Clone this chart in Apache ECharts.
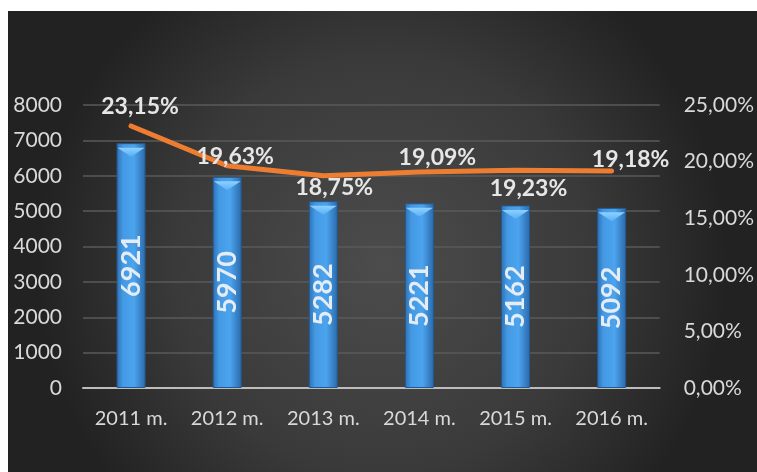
<!DOCTYPE html>
<html><head><meta charset="utf-8">
<script src="https://cdn.jsdelivr.net/npm/echarts@6/dist/echarts.min.js"></script>
<style>html,body{margin:0;padding:0;background:#fff;}#c{width:757px;height:472px;}</style>
</head><body><div id="c"></div>
<script>
const categories = ['2011 m.', '2012 m.', '2013 m.', '2014 m.', '2015 m.', '2016 m.'];
const barValues = [6921, 5970, 5282, 5221, 5162, 5092];
const pctValues = [0.2315, 0.1963, 0.1875, 0.1909, 0.1923, 0.1918];
const pctLabelPos = ['top', 'top', 'bottom', 'top', 'bottom', 'top'];
const pctLabelOffset = [[9, 0], [8, 10], [11, -7], [18, 5], [13, -1], [19, 8]];

const fmtPct = v => (v * 100).toFixed(2).replace('.', ',') + '%';
const font = 'Lato, "Open Sans", sans-serif';

const chart = echarts.init(document.getElementById('c'));
chart.setOption({
  animation: false,
  graphic: [{
    type: 'rect', z: -10, silent: true,
    shape: { x: 8, y: 11, width: 749, height: 461 },
    style: {
      fill: {
        type: 'radial', x: 0.5, y: 0.55, r: 0.75,
        colorStops: [{ offset: 0, color: '#4c4c4c' }, { offset: 0.6, color: '#3a3a3a' }, { offset: 1, color: '#222222' }]
      }
    }
  }],
  grid: { left: 83, right: 95, top: 105, bottom: 84 },
  xAxis: {
    type: 'category', data: categories,
    axisLine: { lineStyle: { color: '#bdbdbd', width: 2 } },
    axisTick: { show: false },
    axisLabel: { color: '#d9d9d9', fontSize: 20, fontFamily: font, margin: 21, interval: 0, hideOverlap: false }
  },
  yAxis: [{
    type: 'value', min: 0, max: 8000, interval: 1000,
    axisLine: { show: false }, axisTick: { show: false },
    axisLabel: { color: '#d9d9d9', fontSize: 21, fontFamily: font, margin: 21, formatter: v => String(v) },
    splitLine: { lineStyle: { color: '#5a5a5a', width: 1.5 } }
  }, {
    type: 'value', min: 0, max: 0.25, interval: 0.05,
    axisLine: { show: false }, axisTick: { show: false },
    axisLabel: { color: '#d9d9d9', fontSize: 21, fontFamily: font, margin: 24, formatter: fmtPct },
    splitLine: { show: false }
  }],
  series: [{
    type: 'bar', data: barValues, barWidth: 29,
    itemStyle: {
      color: { type: 'linear', x: 0, y: 0, x2: 1, y2: 0,
        colorStops: [{ offset: 0, color: '#2d6fb3' }, { offset: 0.22, color: '#4499e4' }, { offset: 0.6, color: '#4ca4ee' }, { offset: 1, color: '#2a69aa' }] },
      borderColor: '#24598f', borderWidth: 1
    },
    label: {
      show: true, position: 'inside', rotate: 90,
      color: '#e4ecf5', fontSize: 27, fontWeight: 'bold', fontFamily: font
    }
  }, {
    type: 'pictorialBar', data: barValues, barGap: '-100%',
    symbol: 'path://M0,0 L10,0 L5,3.2 Z', symbolSize: [27, 9],
    symbolPosition: 'end', symbolOffset: [0, '50%'],
    itemStyle: { color: { type: 'linear', x: 0, y: 0, x2: 0, y2: 1,
      colorStops: [{ offset: 0, color: '#8fd0ff' }, { offset: 1, color: '#56b0f5' }] } },
    z: 3, silent: true
  }, {
    type: 'line', yAxisIndex: 1,
    data: pctValues.map((v, i) => ({ value: v, label: { position: pctLabelPos[i], offset: pctLabelOffset[i] } })),
    symbol: 'circle', symbolSize: 1,
    itemStyle: { color: '#ed7d31' },
    lineStyle: { color: '#ed7d31', width: 5, cap: 'round', join: 'round' },
    z: 5,
    label: {
      show: true, color: '#e6e6e6', fontSize: 23, fontWeight: 'bold', fontFamily: font,
      distance: 7, formatter: p => fmtPct(p.value)
    }
  }]
});
</script></body></html>
